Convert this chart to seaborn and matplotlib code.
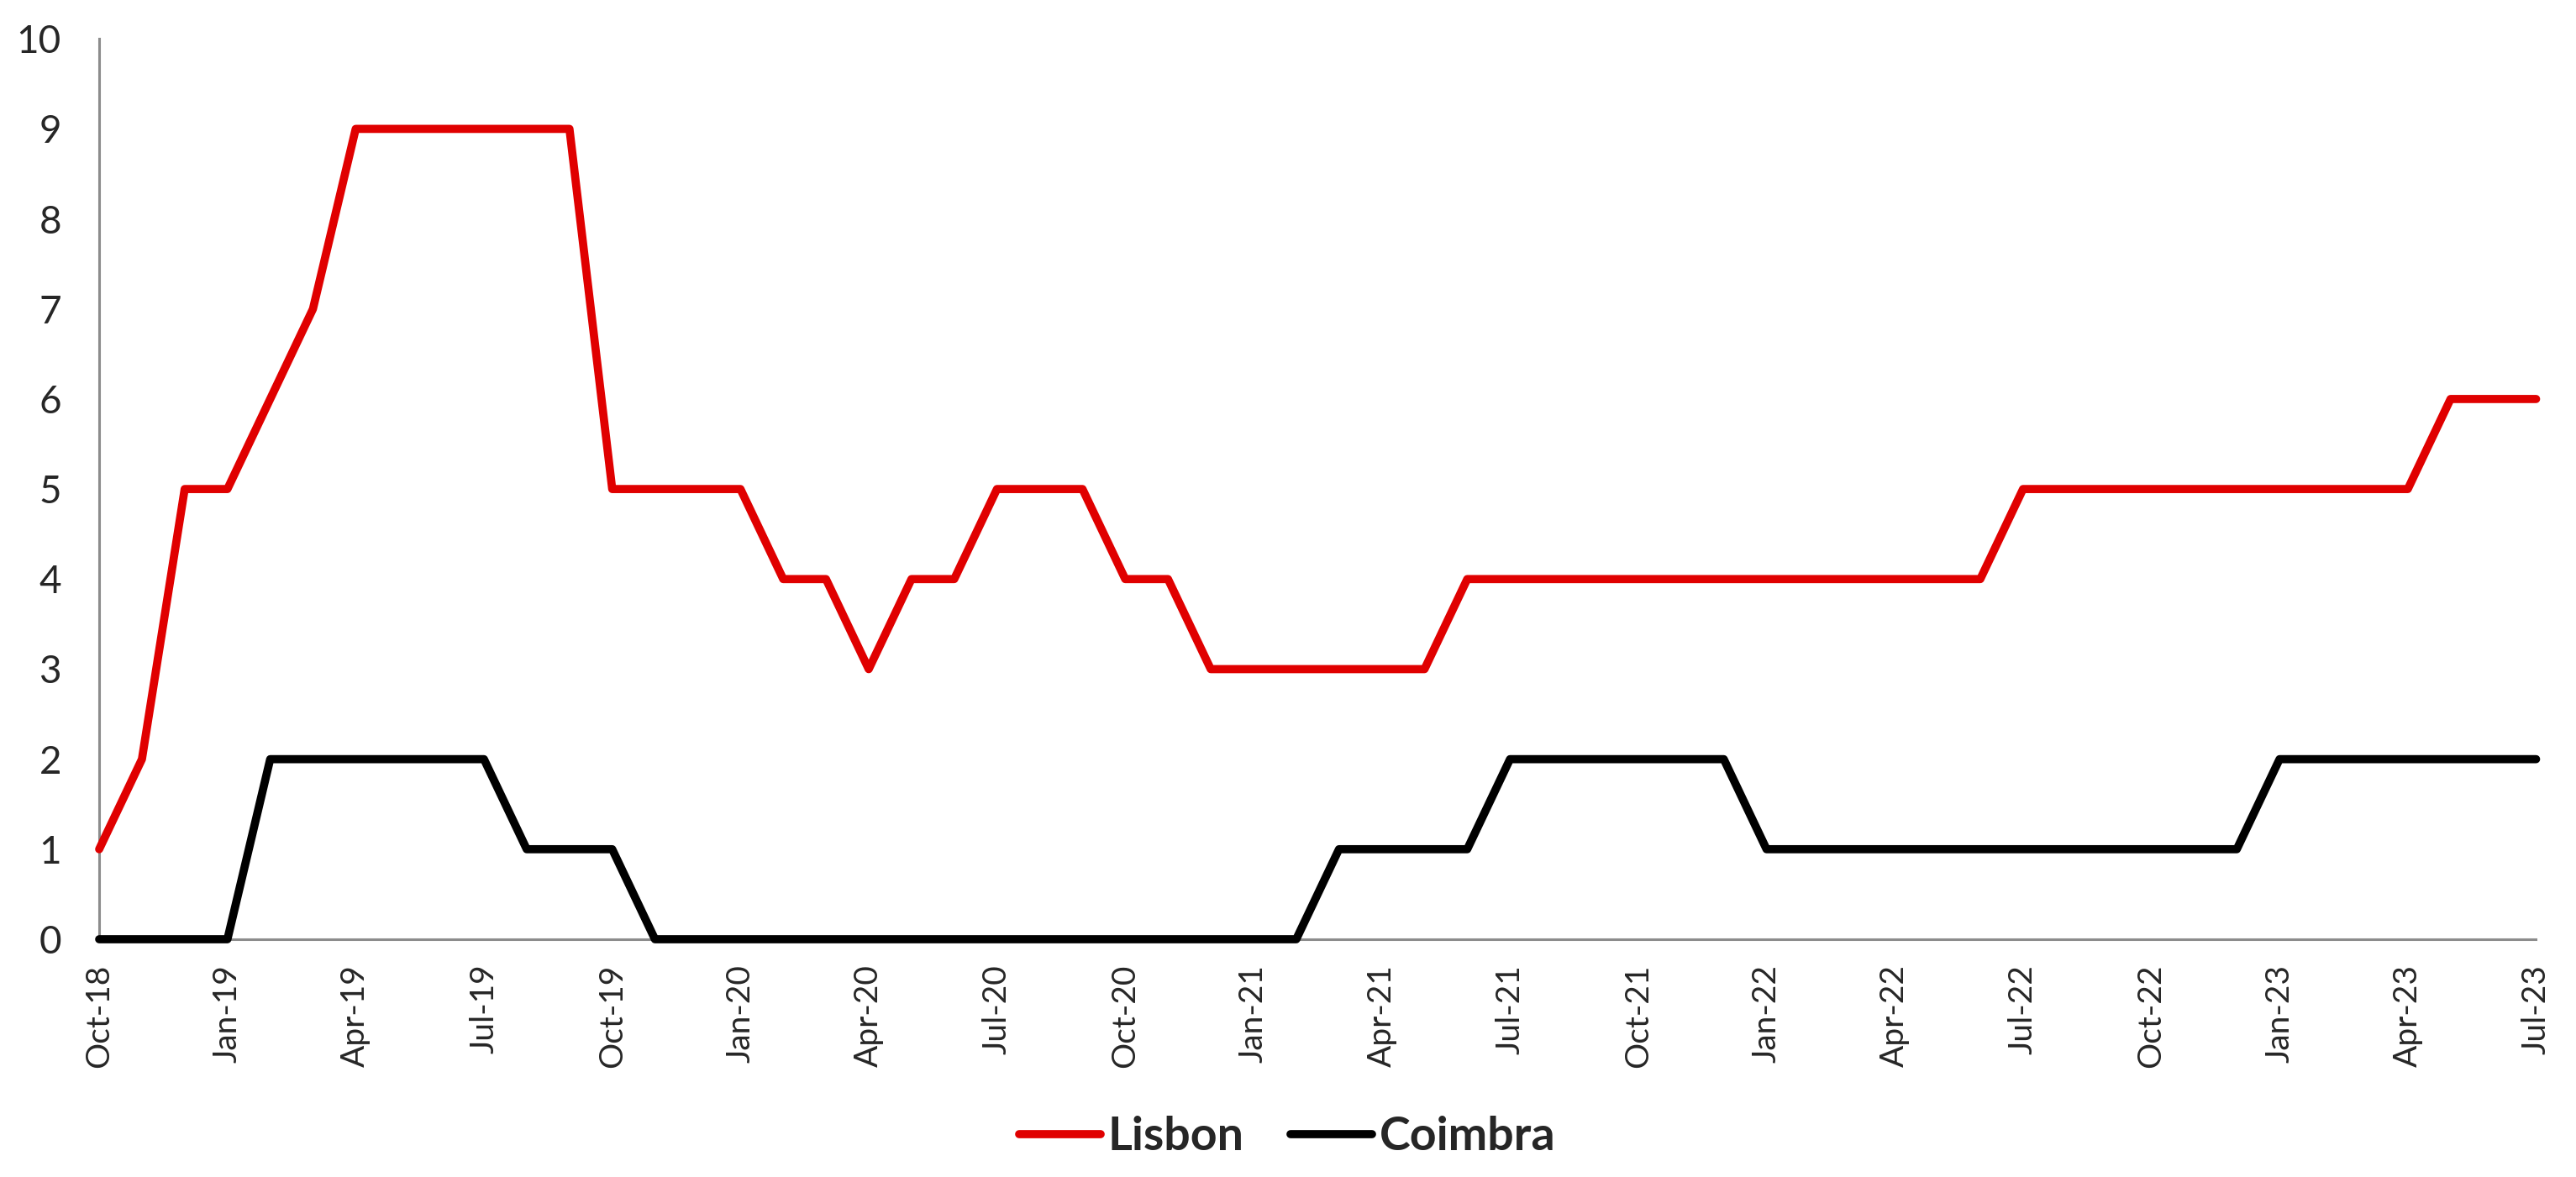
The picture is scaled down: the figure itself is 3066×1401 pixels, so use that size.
import pandas as pd
import numpy as np
import matplotlib
matplotlib.use('Agg')
import matplotlib.pyplot as plt
import seaborn as sns

# monthly, Oct-18 .. Jul-23
months = pd.date_range('2018-10-01', '2023-07-01', freq='MS')

lisbon = [1, 2, 5, 5, 6, 7, 9, 9, 9, 9, 9, 9,      # Oct-18 .. Sep-19
          5, 5, 5, 5, 4, 4, 3, 4, 4, 5, 5, 5,      # Oct-19 .. Sep-20
          4, 4, 3, 3, 3, 3, 3, 3, 4, 4, 4, 4,      # Oct-20 .. Sep-21
          4, 4, 4, 4, 4, 4, 4, 4, 4, 5, 5, 5,      # Oct-21 .. Sep-22
          5, 5, 5, 5, 5, 5, 5, 6, 6, 6]            # Oct-22 .. Jul-23

coimbra = [0, 0, 0, 0, 2, 2, 2, 2, 2, 2, 1, 1,
           1, 0, 0, 0, 0, 0, 0, 0, 0, 0, 0, 0,
           0, 0, 0, 0, 0, 1, 1, 1, 1, 2, 2, 2,
           2, 2, 2, 1, 1, 1, 1, 1, 1, 1, 1, 1,
           1, 1, 1, 2, 2, 2, 2, 2, 2, 2]

series_names = ['Lisbon', 'Coimbra']
series_colors = {'Lisbon': '#E00000', 'Coimbra': '#000000'}

df = pd.DataFrame({'idx': np.arange(len(months)), 'Lisbon': lisbon, 'Coimbra': coimbra})
long_df = df.melt(id_vars='idx', value_vars=series_names, var_name='city', value_name='value')

sns.set_style('white')
plt.rcParams['font.family'] = ['Lato', 'DejaVu Sans']

fig = plt.figure(figsize=(30.66, 14.01), dpi=100)
ax = fig.add_axes([0.0385, 0.202, 0.946, 0.765])

sns.lineplot(data=long_df, x='idx', y='value', hue='city', hue_order=series_names,
             palette=series_colors, linewidth=7, ax=ax, legend=True, clip_on=False)

ax.set_xlim(0, len(months) - 1)
ax.set_ylim(0, 10)
ax.set_yticks(range(0, 11))
ax.set_xticks(np.arange(len(months)))
ax.set_xticklabels([m.strftime('%b-%y') if i % 3 == 0 else '' for i, m in enumerate(months)],
                   rotation=90)
ax.set_xlabel('')
ax.set_ylabel('')

for s in ['top', 'right']:
    ax.spines[s].set_visible(False)
for s in ['left', 'bottom']:
    ax.spines[s].set_color('#8c8c8c')
    ax.spines[s].set_linewidth(2.2)
    ax.spines[s].set_zorder(0)
ax.tick_params(axis='both', direction='out', length=10.5, width=2, color='#8c8c8c')
ax.tick_params(axis='y', labelsize=33, pad=22)
ax.tick_params(axis='x', labelsize=28, pad=11)

handles, labels = ax.get_legend_handles_labels()
ax.legend(handles, labels, loc='center', bbox_to_anchor=(0.4997, 0.034),
          bbox_transform=fig.transFigure, ncol=2, frameon=False,
          prop={'weight': 'bold', 'size': 40}, handlelength=1.75,
          handletextpad=0.15, columnspacing=1.0)

fig.savefig('out.png', dpi=100)
